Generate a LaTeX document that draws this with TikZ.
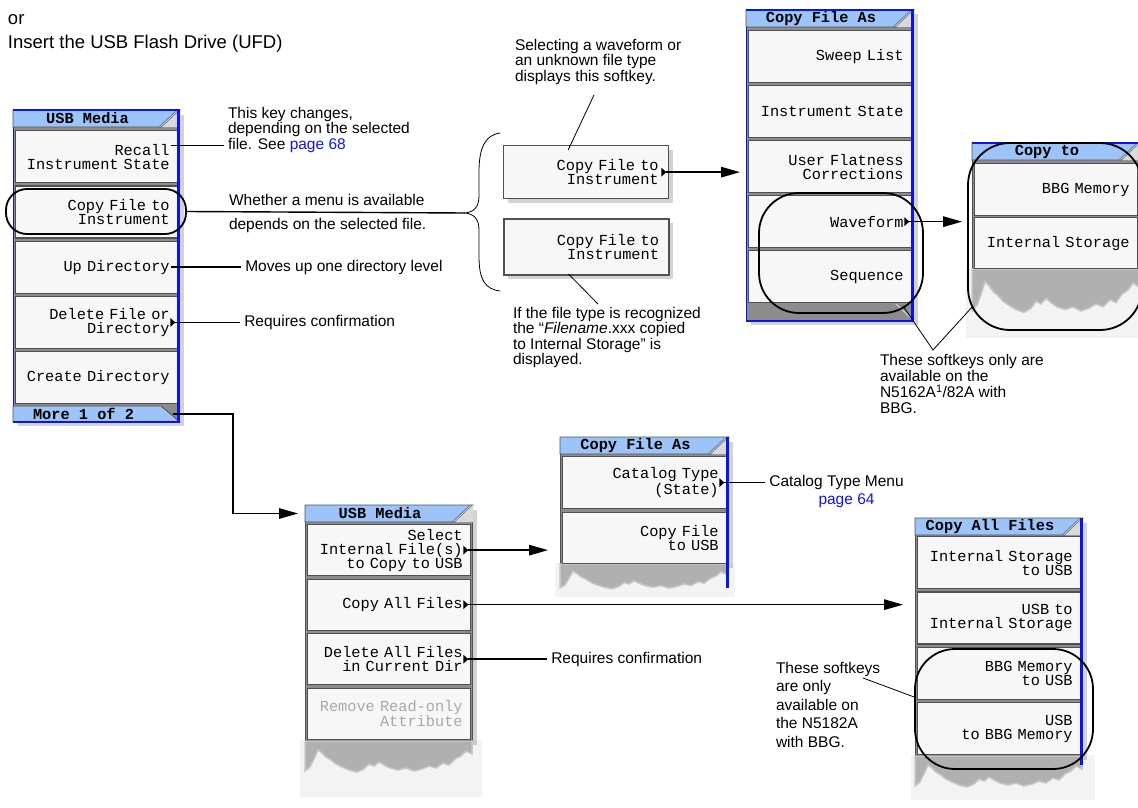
\documentclass[tikz,border=0pt]{standalone}
\usepackage{fontspec}
\setmainfont{Liberation Sans}
\newfontfamily\monof[WordSpace={1,0,0}]{Liberation Mono}
\usetikzlibrary{arrows.meta,positioning,shadows}
\definecolor{tabblue}{HTML}{9CC4F8}
\definecolor{rimblue}{HTML}{0A14F0}
\definecolor{keyfill}{HTML}{F7F7F7}
\definecolor{keyline}{HTML}{505050}
\definecolor{framegray}{HTML}{8C8C8C}
\definecolor{tornbg}{HTML}{F3F3F3}
\definecolor{linkblue}{HTML}{1010FF}
\definecolor{dimtext}{HTML}{A8A8A8}
\newcommand{\keyf}{\monof\fontsize{15.3}{14}\selectfont}
\newcommand{\labf}{\fontsize{15.5}{15.5}\selectfont}
\tikzset{key/.style={draw=keyline,line width=1.3pt,fill=keyfill,font=\keyf,align=right,text width=147pt,inner xsep=8pt,inner ysep=0pt,minimum height=52pt,anchor=north west},
 shd/.style={drop shadow={opacity=.35,shadow xshift=4pt,shadow yshift=-4pt}},
 frm/.style={fill=framegray,draw=keyline,line width=1pt,inner sep=0pt,anchor=north west,shd},
 tabf/.style={fill=tabblue,draw=keyline,line width=.8pt},
 ttl/.style={font=\keyf\bfseries,inner sep=0pt},
 rim/.style={draw=rimblue,line width=3pt},
 ring/.style={draw,line width=1.8pt,inner sep=0pt},
 lb/.style={inner sep=0pt,outer sep=4pt,align=left,font=\labf},
 ln/.style={line width=1.4pt},pt/.style={line width=.8pt},
 ar/.style={ln,-{Triangle[length=19pt,width=10.5pt]}},
 torn/.style={fill=gray!62,draw=gray!45,line width=1.5pt},
 mk/.pic={\fill (0,-4.5) -- (5,0) -- (0,4.5) -- cycle;},
 tear/.pic={\filldraw[torn] (0,0) -- (0,30) -- (5,26) -- (9,18) -- (13,9) -- (17,12) -- (21,16) -- (26,19) -- (31,23) -- (37,26) -- (44,29) -- (52,31) -- (59,28) -- (64,23) -- (69,25) -- (74,21) -- (79,24) -- (85,27) -- (93,29) -- (101,27) -- (109,30) -- (117,28) -- (124,25) -- (131,27) -- (138,22) -- (144,24) -- (150,18) -- (156,15) -- (161,10) -- (167,13) -- (167,0) -- cycle;}}
\begin{document}
\begin{tikzpicture}[x=1pt,y=-1pt]
\useasboundingbox (0,0) rectangle (1138,808);
\node[lb,outer sep=0pt,anchor=west,font=\fontsize{18.5}{18.5}\selectfont] (or) at (8,20) {or};
\node[lb,outer sep=0pt,anchor=west,font=\fontsize{18.5}{18.5}\selectfont] (ins) at (8,44) {Insert the USB Flash Drive (UFD)};
\fill[tornbg] (300,740) rectangle (482,797);\fill[tornbg] (555,563) rectangle (735,597);
\fill[tornbg] (911,755) rectangle (1095,800);\fill[tornbg] (966,268) rectangle (1138,338);
\node[frm,draw=rimblue,minimum width=166pt,minimum height=311pt] (fA) at (13,110) {};
\node[frm,draw=rimblue,minimum width=167pt,minimum height=310pt] (fC) at (746,10) {};
\node[frm,minimum width=167pt,minimum height=125pt] (fD) at (972,143) {};
\node[frm,minimum width=167pt,minimum height=235pt] (fB) at (305,505) {};
\node[frm,minimum width=168pt,minimum height=126pt] (fE) at (560,437) {};
\node[frm,minimum width=167pt,minimum height=237pt] (fF) at (915,518) {};
\pic at (fB.south west) {tear};\pic[yscale=.8] at (fE.south west) {tear};
\pic at (fF.south west) {tear};\pic[yscale=1.4] at (fD.south west) {tear};
\foreach\f in {fA,fB,fC,fD,fE,fF}{\filldraw[tabf] (\f.north west) -- (\f.north east) -- ++(-18,17) -- ([yshift=-17pt]\f.north west) -- cycle;
 \fill[keyfill!75!gray] (\f.north east) -- ++(-18,17) -- ++(18,0) -- cycle;
 \draw[gray,line width=.8pt] ([xshift=-3pt]\f.north east) -- ++(-18,17);}
\node[ttl] (tA) at ([xshift=-9pt,yshift=-8.5pt]fA.north) {USB Media};
\node[ttl] (tC) at ([xshift=-9pt,yshift=-8.5pt]fC.north) {Copy File As};
\node[ttl] (tD) at ([xshift=-9pt,yshift=-8.5pt]fD.north) {Copy to};
\node[ttl] (tB) at ([xshift=-9pt,yshift=-8.5pt]fB.north) {USB Media};
\node[ttl] (tE) at ([xshift=-9pt,yshift=-8.5pt]fE.north) {Copy File As};
\node[ttl] (tF) at ([xshift=-9pt,yshift=-8.5pt]fF.north) {Copy All Files};
\foreach\t [count=\i] in {{Recall\\Instrument State},{Copy File to\\Instrument},{Up Directory},{Delete File or\\Directory},{Create Directory}}
 \node[key,text width=146pt] (A\i) at (15,{130+55.25*(\i-1)}) {\t};
\foreach\t [count=\i] in {{Sweep List},{Instrument State},{User Flatness\\Corrections},{Waveform},{Sequence}}
 \node[key] (C\i) at (748,{30+55*(\i-1)}) {\t};
\node[key] (D1) at (974,163) {BBG Memory};\node[key,minimum height=51pt] (D2) at (974,217) {Internal Storage};
\node[key,minimum height=51pt] (B1) at (307,524) {Select\\Internal File(s)\\to Copy to USB};
\node[key,minimum height=51pt] (B2) at (307,578.5) {Copy All Files};
\node[key,minimum height=51pt] (B3) at (307,633) {Delete All Files\\in Current Dir};
\node[key,minimum height=51pt,text=dimtext] (B4) at (307,687.5) {Remove Read-only\\Attribute};
\node[key,text width=148pt] (E1) at (562,456) {Catalog Type\\(State)};
\node[key,text width=148pt,minimum height=51.5pt] (E2) at (562,511.5) {Copy File\\to USB};
\foreach\t [count=\i] in {{Internal Storage\\to USB},{USB to\\Internal Storage},{BBG Memory\\to USB},{USB\\to BBG Memory}}
 \node[key] (F\i) at (917,{536+55.3*(\i-1)}) {\t};
\node[key,shd,text width=145pt,inner xsep=10pt,minimum height=53pt] (kA) at (503,145) {Copy File to\\Instrument};
\node[key,shd,text width=145pt,inner xsep=10pt,minimum height=56pt,line width=2pt] (kB) at (503,218) {Copy File to\\Instrument};
\filldraw[tabf] ([yshift=16pt]fA.south west) -- ++(148,0) -- (fA.south east) -- (fA.south west) -- cycle;
\node[ttl] (mA) at ([xshift=-13pt,yshift=8pt]fA.south) {More 1 of 2};
\draw[keyfill!70!gray,line width=1pt] ([xshift=-18pt,yshift=17pt]fC.south east) -- (fC.south east);
\draw[rimblue,line width=1.5pt] (fA.north west) -- (fA.north east) (fC.north west) -- (fC.north east) (fD.north west) -- (fD.north east);
\draw[rimblue,line width=2pt] (fA.south west) -- (fA.south east) (fC.south west) -- (fC.south east);
\draw[rim] ([xshift=-1.5pt]fA.north east) -- ([xshift=-1.5pt]fA.south east);
\draw[rim] ([xshift=-1.5pt]fC.north east) -- ([xshift=-1.5pt]fC.south east);
\draw[rim] ([xshift=-1.5pt]fE.north east) -- ++(0,151);\draw[rim] ([xshift=-1.5pt]fF.north east) -- ++(0,247);
\foreach\k in {A4,kA,C4,B1,B2,B3,E1}{\pic at ([xshift=-8pt]\k.east) {mk};}
\node[ring,rounded corners=21pt,minimum width=180pt,minimum height=45pt] (eA) at (96,211.5) {};
\node[ring,rounded corners=40pt,minimum width=164pt,minimum height=120pt] (eC) at (841,253) {};
\node[ring,rounded corners=42pt,minimum width=174pt,minimum height=187pt] (eD) at (1055,236.5) {};
\node[ring,rounded corners=40pt,minimum width=178pt,minimum height=120pt] (eF) at (1004,709) {};
\coordinate (br) at (465,213);
\draw[pt] (500,133) .. controls (485,135) and (479,148) .. (479,172) -- (479,196) .. controls (479,207) and (474,212) .. (br) .. controls (474,214) and (479,219) .. (479,230) -- (479,256) .. controls (479,280) and (485,289) .. (500,291);
\node[lb,anchor=north west] (lab1) at (224,103) {This key changes,\\depending on the selected\\file. See \textcolor{linkblue}{page 68}};
\draw[ln] ([xshift=-7pt,yshift=11pt]A1.east) -- ([yshift=11pt]A1.east -| lab1.west);
\node[lb,anchor=west] (w1) at (225,200) {Whether a menu is available};
\node[lb,anchor=west] (w2) at (225,225) {depends on the selected file.};
\draw[ln] (eA.east) -- (br);
\node[lb,right=63pt of A3] (lab3) {Moves up one directory level};\draw[ln] ([xshift=-7pt]A3.east) -- (lab3.west);
\node[lb,right=62pt of A4] (lab4) {Requires confirmation};\draw[ln] ([xshift=-3pt]A4.east) -- (lab4.west);
\draw[ar] ([xshift=-7pt]fA.east |- mA) -- ++(60,0) |- ([xshift=-7pt]tB -| fB.west);
\draw[ar] ([xshift=-3pt]kA.east) -- ([xshift=-6pt]kA.east -| fC.west);
\node[lb,anchor=north west] (sel) at (511,35) {Selecting a waveform or\\an unknown file type\\displays this softkey.};
\coordinate (s1) at (594,95);\draw[pt] (s1) -- ([xshift=-18pt,yshift=-5pt]kA.north);
\node[lb,anchor=north west] (rec) at (509,303) {If the file type is recognized\\the “\textit{Filename}.xxx copied\\to Internal Storage” is\\displayed.};
\coordinate (s2) at (598,304);\draw[pt] ([xshift=-18pt,yshift=2pt]kB.south) -- (s2);
\draw[ar] ([xshift=-3pt]C4.east) -- ([xshift=-5pt]C4.east -| eD.west);
\node[lb,anchor=north west,font=\fontsize{15.5}{16}\selectfont] (sk1) at (876,350) {These softkeys only are\\available on the\\N5162A\textsuperscript{1}/82A with\\BBG.};
\coordinate (s3) at (933,350);\coordinate (s3a) at (903,306);\coordinate (s3b) at (973,306);
\draw[pt] (s3a) -- (s3) -- (s3b);
\draw[ar] ([xshift=-3pt]B1.east) -- ([xshift=-12pt]B1.east -| fE.west);
\draw[ar] ([xshift=-3pt]B2.east) -- ([xshift=-12pt]B2.east -| fF.west);
\node[lb,right=76pt of B3] (req2) {Requires confirmation};\draw[ln] ([xshift=-3pt]B3.east) -- (req2.west);
\node[lb,right=38pt of E1] (cat) {Catalog Type Menu};\draw[ln] ([xshift=-3pt]E1.east) -- (cat.west);
\node[lb,text=linkblue] (pg) at ([xshift=10pt,yshift=-18pt]cat) {page 64};
\node[lb,anchor=north west,font=\fontsize{15.5}{18.5}\selectfont] (sk2) at (772,658) {These softkeys\\are only\\available on\\the N5182A\\with BBG.};
\coordinate (s4) at (863,678);\draw[pt] (s4) -- ([yshift=12pt]eF.west);
\end{tikzpicture}
\end{document}
